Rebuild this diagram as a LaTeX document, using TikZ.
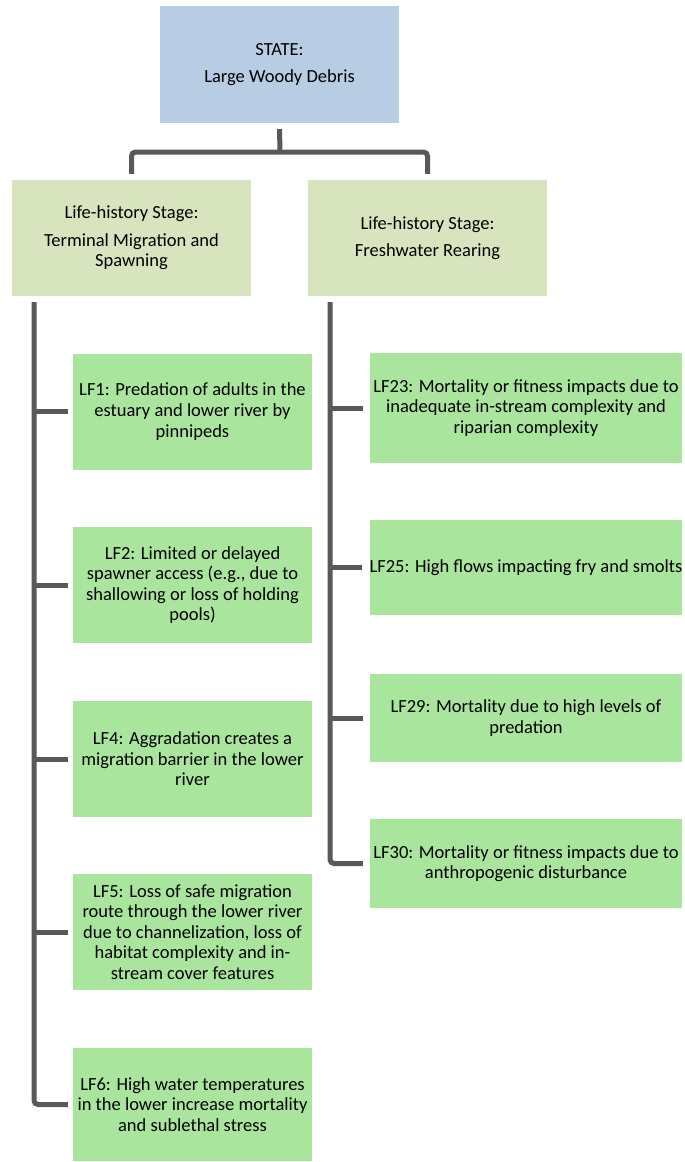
\documentclass[tikz,border=0pt]{standalone}
\usepackage{fontspec}
\setmainfont{Carlito}
\usetikzlibrary{positioning}
\definecolor{Sc}{HTML}{B8CCE4}
\definecolor{Hc}{HTML}{D7E4BD}
\definecolor{Fc}{HTML}{A9E59C}
\definecolor{Tc}{HTML}{595959}
\tikzset{
  statebox/.style={rectangle, fill=Sc, minimum width=239pt, minimum height=117pt, align=center, inner sep=0pt},
  stagebox/.style={rectangle, fill=Hc, minimum width=239pt, minimum height=116pt, align=center, inner sep=0pt},
  lfbox/.style={rectangle, fill=Fc, minimum width=239pt, minimum height=116pt, align=center, inner sep=0pt},
  rfbox/.style={lfbox, minimum width=312pt},
  trunk/.style={draw=Tc, line width=5pt, rounded corners=4pt},
  twig/.style={draw=Tc, line width=5pt, shorten >=5pt},
}
\newcommand{\lftext}{\fontsize{18.5}{20.6}\selectfont}

\begin{document}
\begin{tikzpicture}[x=1pt, y=-1pt, font=\lftext]
  \useasboundingbox (0,0) rectangle (685,1162);
  % top and stages
  \node[statebox] (state) at (279.5,64.5) {STATE:\\[7pt]Large Woody Debris};
  \node[stagebox] (ls) at (131.5,238) {Life-history Stage:\\[7pt]Terminal Migration and\\Spawning};
  \node[stagebox] (rs) at (427.5,238) {Life-history Stage:\\[7pt]Freshwater Rearing};
  \coordinate (bar) at (280,152);
  \draw[trunk] ([yshift=-6pt]state.south) -- (bar);
  \draw[trunk] ([yshift=6pt]ls.north) |- (bar) -| ([yshift=6pt]rs.north);
  % left column
  \node[lfbox] (lf1) at (192.5,411.5) {LF1: Predation of adults in the\\estuary and lower river by\\pinnipeds};
  \node[lfbox] (lf2) at (192.5,585) {LF2: Limited or delayed\\spawner access (e.g., due to\\shallowing or loss of holding\\pools)};
  \node[lfbox] (lf4) at (192.5,759) {LF4: Aggradation creates a\\migration barrier in the lower\\river};
  \node[lfbox] (lf5) at (192.5,932) {LF5: Loss of safe migration\\route through the lower river\\due to channelization, loss of\\habitat complexity and in-\\stream cover features};
  \node[lfbox, minimum height=113pt] (lf6) at (192.5,1104.5) {LF6: High water temperatures\\in the lower increase mortality\\and sublethal stress};
  % right column
  \node[rfbox, minimum height=110pt] (lf23) at (526,408) {LF23: Mortality or fitness impacts due to\\inadequate in-stream complexity and\\riparian complexity};
  \node[rfbox, minimum height=95pt] (lf25) at (526,567.5) {LF25: High flows impacting fry and smolts};
  \node[rfbox, minimum height=88pt] (lf29) at (526,718) {LF29: Mortality due to high levels of\\predation};
  \node[rfbox, minimum height=89pt] (lf30) at (526,863.5) {LF30: Mortality or fitness impacts due to\\anthropogenic disturbance};
  % trunks and twigs
  \coordinate (ltop) at (34,302);
  \coordinate (rtop) at (330,302);
  \draw[trunk, shorten >=5pt] (ltop) |- (lf6.west);
  \draw[trunk, shorten >=7pt] (rtop) |- (lf30.west);
  \foreach \b in {lf1,lf2,lf4,lf5} \draw[twig] (ltop |- \b.west) -- (\b.west);
  \foreach \b in {lf23,lf25,lf29} \draw[twig, shorten >=7pt] (rtop |- \b.west) -- (\b.west);
\end{tikzpicture}
\end{document}
